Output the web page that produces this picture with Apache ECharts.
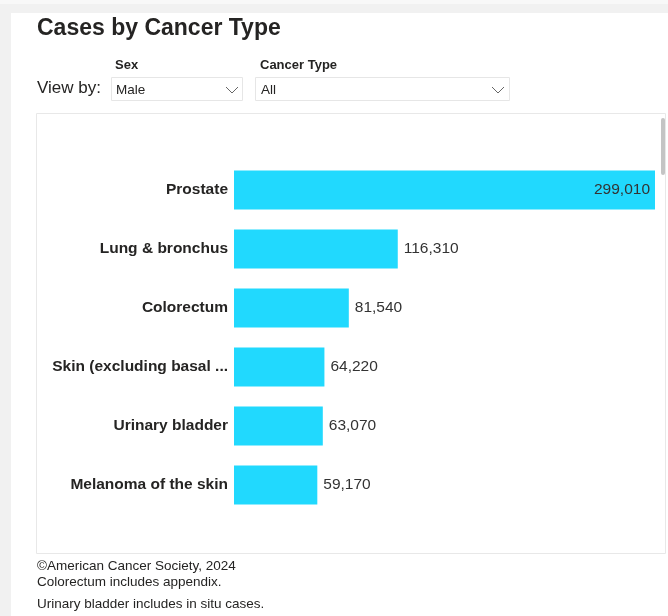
<!DOCTYPE html>
<html>
<head>
<meta charset="utf-8">
<script src="https://cdn.jsdelivr.net/npm/echarts@6/dist/echarts.min.js"></script>
<style>
html,body{margin:0;padding:0;background:#fff;}
#chart{width:668px;height:616px;}
</style>
</head>
<body>
<div id="chart"></div>
<script>
const categories = ["Prostate", "Lung & bronchus", "Colorectum", "Skin (excluding basal & squamous)", "Urinary bladder", "Melanoma of the skin"];
const cases = [299010, 116310, 81540, 64220, 63070, 59170];
const footnotes = ["\u00A9American Cancer Society, 2024", "Colorectum includes appendix.", "Urinary bladder includes in situ cases."];

const FONT = '"Liberation Sans", Arial, sans-serif';
const chart = echarts.init(document.getElementById('chart'), null, {renderer: 'canvas'});

const fmt = v => v.toLocaleString('en-US');

chart.setOption({
  animation: false,
  backgroundColor: '#ffffff',
  textStyle: {fontFamily: FONT},
  graphic: [
    {type: 'rect', z: -10, shape: {x: 0, y: 0, width: 668, height: 616}, style: {fill: '#f1f1f1'}},
    {type: 'rect', z: -10, shape: {x: 0, y: 0, width: 668, height: 4}, style: {fill: '#f8f8f8'}},
    {type: 'rect', z: -9, shape: {x: 11, y: 13, width: 657, height: 603}, style: {fill: '#ffffff'}},
    {type: 'text', left: 37, top: 17, style: {text: 'Cases by Cancer Type', font: 'bold 23px ' + FONT, fill: '#252423'}},
    {type: 'text', left: 115, top: 59, style: {text: 'Sex', font: 'bold 13px ' + FONT, fill: '#252423'}},
    {type: 'text', left: 260, top: 59, style: {text: 'Cancer Type', font: 'bold 13px ' + FONT, fill: '#252423'}},
    {type: 'text', left: 37, top: 80, style: {text: 'View by:', font: '17px ' + FONT, fill: '#252423'}},
    {type: 'rect', shape: {x: 111.5, y: 77.5, width: 131, height: 23}, style: {fill: '#fff', stroke: '#e6e6e6', lineWidth: 1}},
    {type: 'text', left: 116, top: 83, style: {text: 'Male', font: '13.5px ' + FONT, fill: '#252423'}},
    {type: 'polyline', shape: {points: [[226, 87], [232, 93], [238, 87]]}, style: {stroke: '#666', lineWidth: 1, fill: null}},
    {type: 'rect', shape: {x: 255.5, y: 77.5, width: 254, height: 23}, style: {fill: '#fff', stroke: '#e6e6e6', lineWidth: 1}},
    {type: 'text', left: 261, top: 83, style: {text: 'All', font: '13.5px ' + FONT, fill: '#252423'}},
    {type: 'polyline', shape: {points: [[492, 87], [498, 93], [504, 87]]}, style: {stroke: '#666', lineWidth: 1, fill: null}},
    {type: 'rect', z: -5, shape: {x: 36.5, y: 113.5, width: 629, height: 440}, style: {fill: '#fff', stroke: '#e8e8e8', lineWidth: 1}},
    {type: 'rect', z: 10, shape: {x: 661, y: 118, width: 4, height: 57, r: 2}, style: {fill: '#c4c4c4'}},
    {type: 'text', left: 37, top: 559, style: {text: footnotes[0], font: '13.5px ' + FONT, fill: '#252423'}},
    {type: 'text', left: 37, top: 575, style: {text: footnotes[1], font: '13.5px ' + FONT, fill: '#252423'}},
    {type: 'text', left: 37, top: 597, style: {text: footnotes[2], font: '13.5px ' + FONT, fill: '#252423'}}
  ],
  grid: {left: 234, top: 160.5, right: 13, height: 354, containLabel: false},
  xAxis: {
    type: 'value', min: 0, max: 299010, show: false,
    splitLine: {show: false}
  },
  yAxis: {
    type: 'category', data: categories, inverse: true,
    axisLine: {show: false}, axisTick: {show: false},
    axisLabel: {
      margin: 6, fontSize: 15.5, fontWeight: 'bold', color: '#252423', fontFamily: FONT,
      width: 184, overflow: 'truncate', ellipsis: ' ...'
    }
  },
  series: [{
    type: 'bar',
    data: cases.map((v, i) => ({
      value: v,
      label: i === 0 ? {position: 'insideRight', distance: 5} : {position: 'right', distance: 6}
    })),
    barCategoryGap: '34%',
    itemStyle: {color: '#21d9fe'},
    label: {
      show: true, fontSize: 15.5, color: '#333333', fontFamily: FONT,
      formatter: p => fmt(p.value)
    }
  }]
});
</script>
</body>
</html>
